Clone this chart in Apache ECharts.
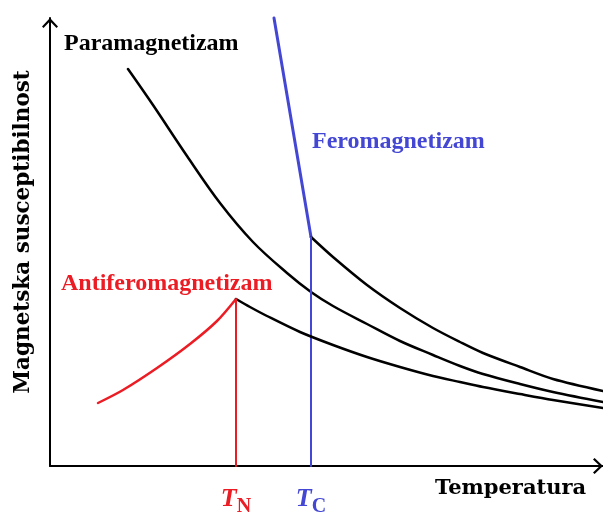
<!DOCTYPE html>
<html><head><meta charset="utf-8">
<script src="https://cdn.jsdelivr.net/npm/echarts@6/dist/echarts.min.js"></script>
<style>html,body{margin:0;padding:0;background:#fff}#c{width:603px;height:512px}</style>
</head><body><div id="c"></div>
<script>
// Values (temperature, susceptibility) in arbitrary units
const paraT   = [78, 103, 137, 170, 203, 237, 261, 283, 317, 350, 383, 410, 433, 470, 503, 553];
const paraChi = [397, 361, 310, 263, 224, 193, 174, 160, 142, 125, 111, 100, 92, 82, 74, 64];

const ferroSteepT   = [224, 261];
const ferroSteepChi = [448, 229];

const ferroT   = [261, 283, 317, 350, 383, 410, 433, 470, 503, 553];
const ferroChi = [229, 209, 181, 158, 138, 124, 113, 99, 87, 75];

const afmLowT   = [48, 73, 107, 140, 167, 186];
const afmLowChi = [63, 76, 98, 122, 145, 167];

const afmT   = [186, 200, 217, 250, 283, 317, 350, 383, 410, 433, 470, 503, 553];
const afmChi = [167, 159, 150, 134, 121, 109, 99, 90, 84, 79, 72, 66, 58];

const tN = 186;
const tC = 261;
const axisMax = { t: 553, chi: 448 };

const RED = '#ec1c24';
const BLUE = '#4347d3';
const zip = (a, b) => a.map((v, i) => [v, b[i]]);

const chevron = 'path://M8 0 L16 8.4 L14.5 10 L8 3.2 L1.5 10 L0 8.4 Z';

const chart = echarts.init(document.getElementById('c'), null, { renderer: 'canvas' });

function lineSeries(data, color, width, smooth) {
  return {
    type: 'line', data: data, showSymbol: false, symbol: 'none',
    smooth: smooth,
    clip: false, silent: true, animation: false,
    lineStyle: { color: color, width: width, cap: 'round', join: 'round' }
  };
}

chart.setOption({
  animation: false,
  backgroundColor: '#fff',
  grid: { left: 50, right: 0, top: 18, bottom: 46, containLabel: false, outerBoundsMode: 'none' },
  xAxis: {
    type: 'value', min: 0, max: axisMax.t,
    splitLine: { show: false },
    axisTick: { show: false },
    axisLine: { show: true, lineStyle: { color: '#000', width: 2 },
      symbol: ['none', chevron], symbolSize: [16, 10], symbolOffset: [0, -5] },
    axisLabel: {
      show: true, customValues: [tN, tC], margin: 20,
      formatter: function (v) {
        if (Math.abs(v - tN) < 0.5) return '{tn|T}{tns|N}';
        if (Math.abs(v - tC) < 0.5) return '{tc|T}{tcs|C}';
        return '';
      },
      rich: {
        tn:  { color: RED, fontFamily: 'Liberation Serif', fontWeight: 'bold', fontStyle: 'italic', fontSize: 26, verticalAlign: 'bottom', padding: [0, 0, 5, 0] },
        tns: { color: RED, fontFamily: 'Liberation Serif', fontWeight: 'bold', fontSize: 20, verticalAlign: 'bottom' },
        tc:  { color: BLUE, fontFamily: 'Liberation Serif', fontWeight: 'bold', fontStyle: 'italic', fontSize: 26, verticalAlign: 'bottom', padding: [0, 0, 5, 0] },
        tcs: { color: BLUE, fontFamily: 'Liberation Serif', fontWeight: 'bold', fontSize: 20, verticalAlign: 'bottom' }
      }
    }
  },
  yAxis: {
    type: 'value', min: 0, max: axisMax.chi,
    splitLine: { show: false },
    axisTick: { show: false },
    axisLabel: { show: false },
    axisLine: { show: true, lineStyle: { color: '#000', width: 2 },
      symbol: ['none', chevron], symbolSize: [16, 10], symbolOffset: [0, -5] }
  },
  series: [
    lineSeries(zip(paraT, paraChi), '#000', 2.5, 0.35),
    lineSeries(zip(ferroSteepT, ferroSteepChi), BLUE, 3, false),
    lineSeries(zip(ferroT, ferroChi), '#000', 2.5, 0.3),
    lineSeries([[tC, ferroChi[0]], [tC, 0]], BLUE, 2, false),
    lineSeries(zip(afmLowT, afmLowChi), RED, 2.5, 0.3),
    lineSeries(zip(afmT, afmChi), '#000', 2.5, 0.3),
    lineSeries([[tN, afmChi[0]], [tN, 0]], RED, 2, false)
  ],
  graphic: [
    { type: 'text', left: 64, top: 32, silent: true,
      style: { text: 'Paramagnetizam', fill: '#000', font: 'bold 24px "Liberation Serif"' } },
    { type: 'text', left: 312, top: 130, silent: true,
      style: { text: 'Feromagnetizam', fill: BLUE, font: 'bold 24px "Liberation Serif"' } },
    { type: 'text', left: 61, top: 272, silent: true,
      style: { text: 'Antiferomagnetizam', fill: RED, font: 'bold 24px "Liberation Serif"' } },
    { type: 'text', left: 435, top: 478, silent: true,
      style: { text: 'Temperatura', fill: '#000', font: 'bold 21px "DejaVu Serif"' } },
    { type: 'text', x: 23, y: 232, rotation: Math.PI / 2, silent: true,
      style: { text: 'Magnetska susceptibilnost', fill: '#000', font: 'bold 21.5px "DejaVu Serif"', align: 'center', verticalAlign: 'middle' } }
  ]
});
</script></body></html>
